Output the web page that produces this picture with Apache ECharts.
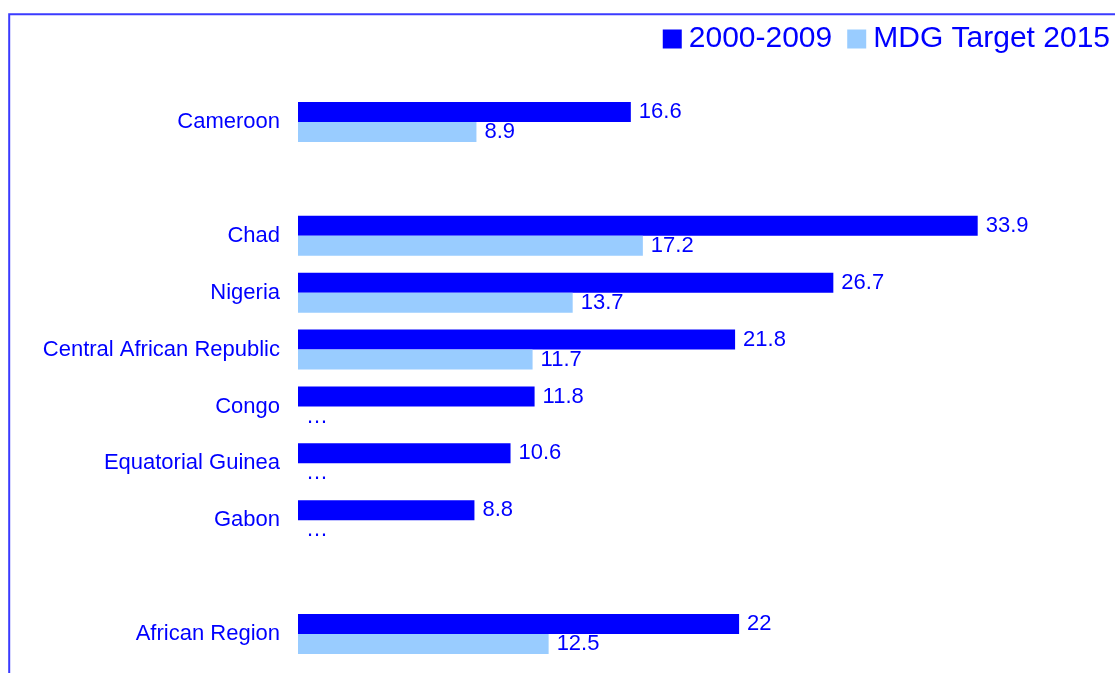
<!DOCTYPE html>
<html>
<head>
<meta charset="utf-8">
<script src="https://cdn.jsdelivr.net/npm/echarts@6/dist/echarts.min.js"></script>
<style>
html,body{margin:0;padding:0;background:#fff;}
#chart{width:1115px;height:673px;}
</style>
</head>
<body>
<div id="chart"></div>
<script>
const categories = ['Cameroon', '', 'Chad', 'Nigeria', 'Central African Republic', 'Congo', 'Equatorial Guinea', 'Gabon', ' ', 'African Region'];
const series2000_2009 = [16.6, null, 33.9, 26.7, 21.8, 11.8, 10.6, 8.8, null, 22];
const mdgTarget2015 = [8.9, null, 17.2, 13.7, 11.7, '…', '…', '…', null, 12.5];
const seriesNames = ['2000-2009', 'MDG Target 2015'];

const textColor = '#0000ff';
const fontFamily = 'Liberation Sans, Arial, sans-serif';

function toData(arr) {
  return arr.map(v => {
    if (v === null) return null;
    if (typeof v === 'string') return { value: 0, label: { formatter: v } };
    return v;
  });
}

const chart = echarts.init(document.getElementById('chart'), null, { renderer: 'canvas' });
chart.setOption({
  animation: false,
  backgroundColor: '#ffffff',
  textStyle: { fontFamily: fontFamily },
  graphic: [{
    type: 'rect',
    silent: true,
    shape: { x: 9.2, y: 14.2, width: 1300, height: 900 },
    style: { fill: 'none', stroke: '#3b3bff', lineWidth: 2 }
  }],
  legend: {
    right: 0,
    top: 19,
    itemWidth: 19,
    itemHeight: 19,
    itemGap: 15,
    icon: 'rect',
    textStyle: { fontSize: 30, color: textColor, fontFamily: fontFamily, padding: [0, 0, 0, 2] },
    data: seriesNames
  },
  grid: { left: 298, right: 15, top: 93.5, bottom: 10.5, containLabel: false },
  xAxis: { type: 'value', min: 0, max: 40, show: false },
  yAxis: {
    type: 'category',
    inverse: true,
    data: categories,
    axisLine: { show: false },
    axisTick: { show: false },
    splitLine: { show: false },
    axisLabel: { color: textColor, fontSize: 22, margin: 18, fontFamily: fontFamily }
  },
  series: [
    {
      name: seriesNames[0],
      type: 'bar',
      barWidth: 20,
      barGap: '0%',
      itemStyle: { color: '#0000ff' },
      label: { show: true, position: 'right', distance: 8, color: textColor, fontSize: 22, fontFamily: fontFamily },
      data: toData(series2000_2009)
    },
    {
      name: seriesNames[1],
      type: 'bar',
      barWidth: 20,
      barGap: '0%',
      itemStyle: { color: '#99ccff' },
      label: { show: true, position: 'right', distance: 8, color: textColor, fontSize: 22, fontFamily: fontFamily },
      data: toData(mdgTarget2015)
    }
  ]
});
</script>
</body>
</html>
